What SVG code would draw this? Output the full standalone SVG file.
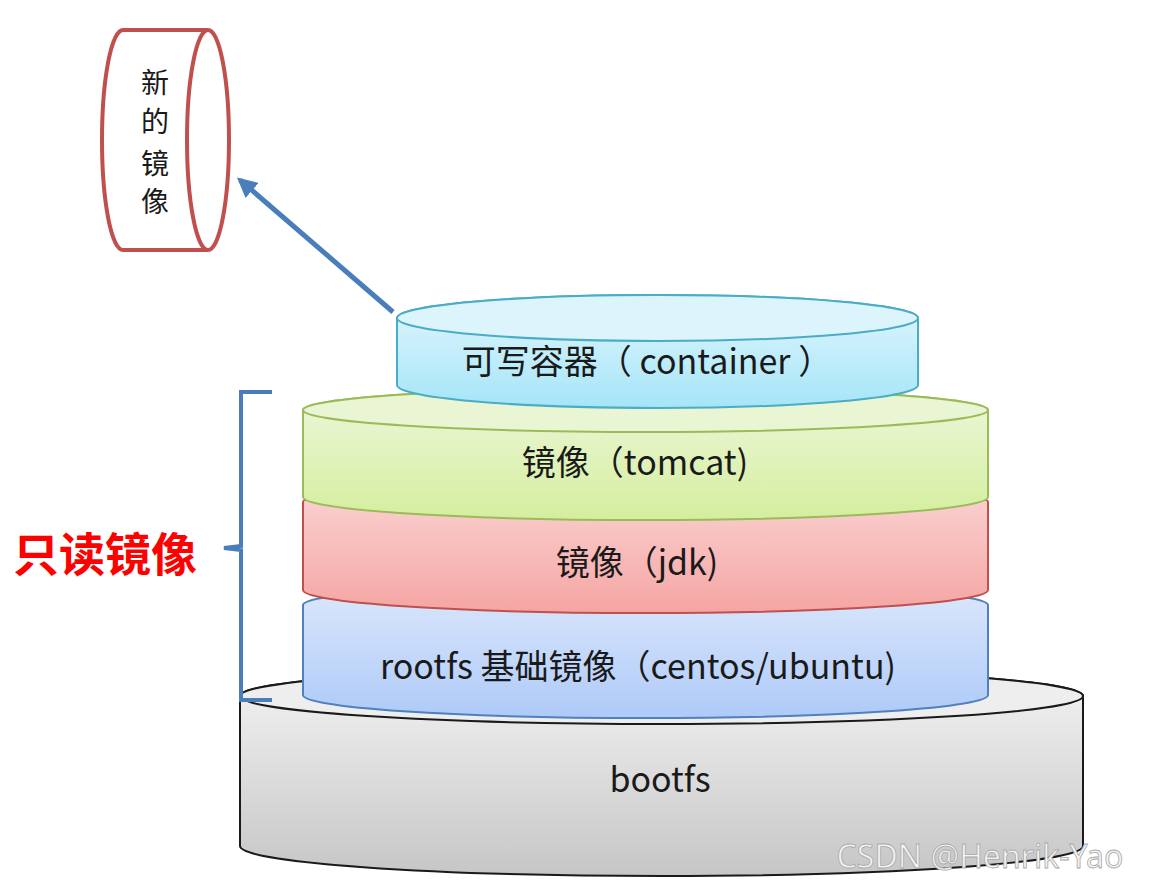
<svg xmlns="http://www.w3.org/2000/svg" width="1156" height="890" viewBox="0 0 1156 890">
<style>
.t{font-family:"Noto Sans CJK SC","Noto Sans",sans-serif;font-size:34px;fill:#1a1a1a;text-anchor:middle}
.v{font-family:"Noto Sans CJK SC",sans-serif;font-size:28px;fill:#1a1a1a;text-anchor:middle}
</style>
<defs>
<linearGradient id="gC" x1="0" y1="0" x2="0" y2="1"><stop offset="0" stop-color="#e2f7fd"/><stop offset="1" stop-color="#a5e5f8"/></linearGradient>
<linearGradient id="gG" x1="0" y1="0" x2="0" y2="1"><stop offset="0" stop-color="#eef7dc"/><stop offset="1" stop-color="#d4ee9e"/></linearGradient>
<linearGradient id="gR" x1="0" y1="0" x2="0" y2="1"><stop offset="0" stop-color="#fad6d5"/><stop offset="1" stop-color="#f5a5a3"/></linearGradient>
<linearGradient id="gB" x1="0" y1="0" x2="0" y2="1"><stop offset="0" stop-color="#dde8fc"/><stop offset="1" stop-color="#aecaf8"/></linearGradient>
<linearGradient id="gK" x1="0" y1="0" x2="0" y2="1"><stop offset="0" stop-color="#f4f4f4"/><stop offset="1" stop-color="#c6c6c6"/></linearGradient>
<marker id="ah" viewBox="0 0 10 10" refX="8" refY="5" markerWidth="4" markerHeight="4" orient="auto"><path d="M0,0 L10,5 L0,10 Z" fill="#4a7ebb"/></marker>
</defs>

<g id="bootfs">
<path d="M240,696 A421.5,28 0 0 1 1083,696 L1083,846 A421.5,30 0 0 1 240,846 Z" fill="url(#gK)" stroke="#1a1a1a" stroke-width="2"/>
<ellipse cx="661.5" cy="696" rx="421.5" ry="28" fill="#eeeeee" stroke="#1a1a1a" stroke-width="2"/>
<text class="t" x="660" y="792">bootfs</text>
</g>

<g id="rootfs">
<path d="M303,605 A342.5,22 0 0 1 988,605 L988,695 A342.5,23 0 0 1 303,695 Z" fill="url(#gB)" stroke="#4f81bd" stroke-width="2"/>
<text class="t" x="638" y="679">rootfs 基础镜像（centos/ubuntu)</text>
</g>

<g id="jdk">
<path d="M303,502 A342.5,22 0 0 1 988,502 L988,590 A342.5,23 0 0 1 303,590 Z" fill="url(#gR)" stroke="#c0504d" stroke-width="2"/>
<text class="t" x="637" y="575">镜像（jdk)</text>
</g>

<g id="tomcat">
<path d="M303,410 A342.5,22 0 0 1 988,410 L988,497 A342.5,23 0 0 1 303,497 Z" fill="url(#gG)" stroke="#9bbb59" stroke-width="2"/>
<ellipse cx="645.5" cy="410" rx="342.5" ry="22" fill="#eaf5d4" stroke="#9bbb59" stroke-width="2"/>
<text class="t" x="635" y="475">镜像（tomcat)</text>
</g>

<g id="container">
<path d="M397,318 A260.5,23 0 0 1 918,318 L918,385 A260.5,23 0 0 1 397,385 Z" fill="url(#gC)" stroke="#4bacc6" stroke-width="2"/>
<ellipse cx="657.5" cy="318" rx="260.5" ry="23" fill="#dcf5fc" stroke="#4bacc6" stroke-width="2"/>
<text class="t" x="647" y="374">可写容器（ container ）</text>
</g>

<g id="new-image">
<path d="M208,30 L123,30 A21,110 0 0 0 123,250 L208,250" fill="#ffffff" stroke="#c0504d" stroke-width="4"/>
<ellipse cx="208" cy="140" rx="21" ry="110" fill="#ffffff" stroke="#c0504d" stroke-width="4"/>
<text class="v" x="155" y="93">新</text>
<text class="v" x="155" y="132">的</text>
<text class="v" x="155" y="174">镜</text>
<text class="v" x="155" y="212">像</text>
</g>

<g id="readonly-label">
<path d="M272,392 L241,392 L241,546 L224,548 L241,550 L241,700 L272,700" fill="none" stroke="#4a7ebb" stroke-width="4"/>
<text x="105" y="571" font-family="Noto Sans CJK SC, sans-serif" font-size="46" font-weight="bold" fill="#ff0000" text-anchor="middle">只读镜像</text>
</g>

<g id="connectors">
<line x1="393" y1="312" x2="240" y2="180" stroke="#4a7ebb" stroke-width="5" marker-end="url(#ah)"/>
</g>

<text x="980" y="868" font-family="Noto Sans, sans-serif" font-size="32" fill="#f4f4f4" text-anchor="middle" stroke="#a8a8a8" stroke-width="0.8">CSDN @Henrik-Yao</text>
</svg>
